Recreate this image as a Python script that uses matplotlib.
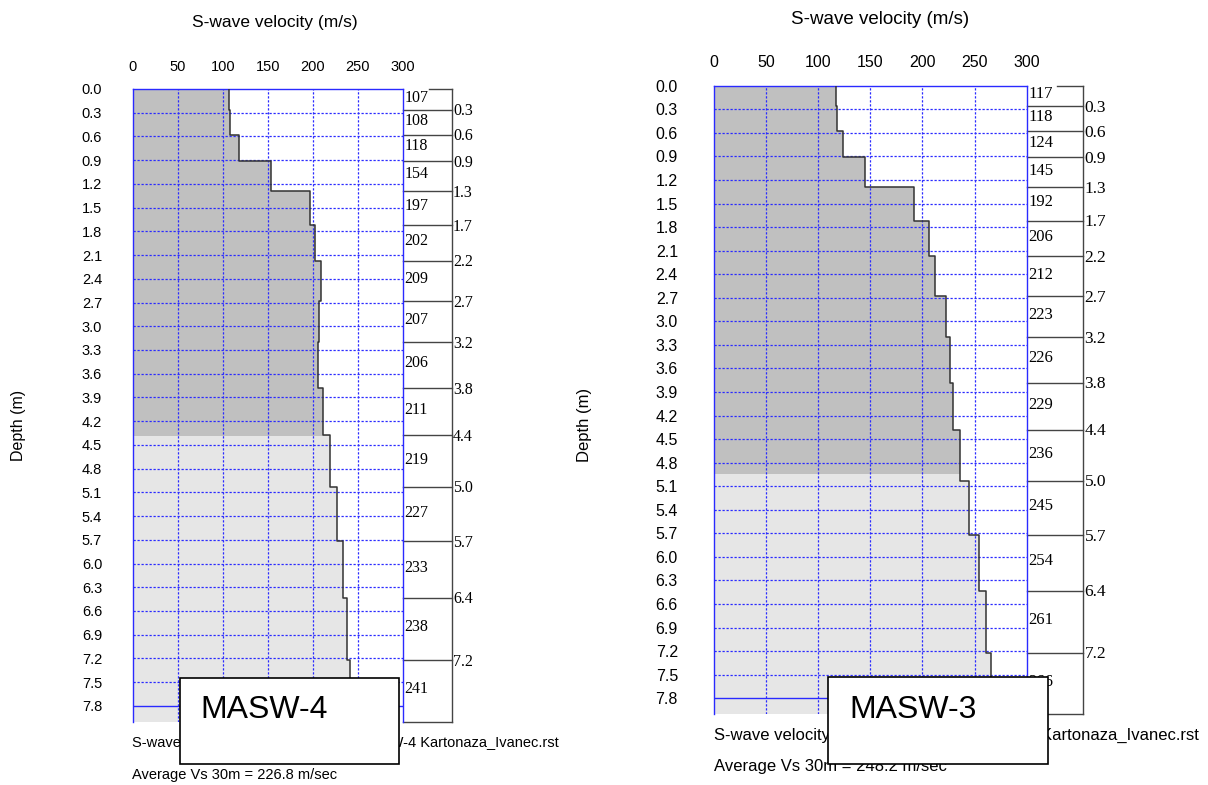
import matplotlib
matplotlib.use('Agg')
import matplotlib.pyplot as plt
import numpy as np
from matplotlib.patches import Rectangle

plt.rcParams['font.family'] = ['Liberation Sans', 'DejaVu Sans']

W, H = 1208, 785

# layer model (same depth model for both soundings)
bounds = [0.26, 0.58, 0.91, 1.29, 1.72, 2.17, 2.68, 3.20, 3.78, 4.38, 5.03, 5.72, 6.43, 7.22]
bound_labels = ['0.3', '0.6', '0.9', '1.3', '1.7', '2.2', '2.7', '3.2', '3.8', '4.4',
                '5.0', '5.7', '6.4', '7.2']
max_depth = 8.0

vs_masw4 = [107, 108, 118, 154, 197, 202, 209, 207, 206, 211, 219, 227, 233, 238, 241]
vs_masw3 = [117, 118, 124, 145, 192, 206, 212, 223, 226, 229, 236, 245, 254, 261, 266]
dark_end_masw4 = 4.38
dark_end_masw3 = 4.93

depth_ticks = np.round(np.arange(0, 7.81, 0.3), 1)
vel_ticks = [0, 50, 100, 150, 200, 250, 300]

names = ['MASW-4', 'MASW-3']
avg_vs = [226.8, 248.2]
footers = ['S-wave velocity profile from file C:\\MASW-4 Kartonaza_Ivanec.rst',
           'S-wave velocity profile from file C:\\MASW-3 Kartonaza_Ivanec.rst']

blue = '#2a2aff'
dark = '#c0c0c0'
light = '#e6e6e6'

fig = plt.figure(figsize=(W / 100, H / 100), dpi=100)


def px(x, y):
    return x / W, 1 - y / H


def panel(rect_px, vs, dark_end, ypad, fs):
    l, t, r, b = rect_px
    ax = fig.add_axes([l / W, 1 - b / H, (r - l) / W, (b - t) / H])
    edges = [0.0] + bounds + [max_depth]
    ys, xs = [], []
    for top, bot, v in zip(edges[:-1], edges[1:], vs):
        ys += [top, bot]
        xs += [v, v]
    ys = np.array(ys)
    xs = np.array(xs)

    ax.fill_betweenx(ys, 0, xs, color=light, lw=0, zorder=1)
    d = ax.fill_betweenx(ys, 0, xs, color=dark, lw=0, zorder=1.1)
    d.set_clip_path(Rectangle((0, 0), 400, dark_end, transform=ax.transData))
    ax.plot(xs, ys, color='#333333', lw=1.1, zorder=3)

    for v in vel_ticks[1:-1]:
        ax.axvline(v, color=blue, lw=0.9, ls=(0, (1.8, 1.4)), zorder=2)
    for d_ in depth_ticks[1:-1]:
        ax.axhline(d_, color=blue, lw=0.9, ls=(0, (1.8, 1.4)), zorder=2)
    ax.axhline(depth_ticks[-1], color=blue, lw=1.0, zorder=2)

    ax.set_xlim(0, 300)
    ax.set_ylim(max_depth, 0)
    ax.xaxis.tick_top()
    ax.set_xticks(vel_ticks)
    ax.set_xticklabels([str(v) for v in vel_ticks])
    ax.set_yticks(depth_ticks)
    ax.set_yticklabels([f'{v:.1f}' for v in depth_ticks])
    ax.tick_params(axis='x', length=0, pad=11, labelsize=fs['tick'])
    ax.tick_params(axis='y', length=0, pad=ypad, labelsize=fs['tick'])
    for s in ['left', 'right', 'top']:
        ax.spines[s].set_color(blue)
        ax.spines[s].set_linewidth(1.0)
    ax.spines['bottom'].set_visible(False)

    # layer table to the right of the plot
    tx = 354
    ax.plot([tx, tx], [0, max_depth], color='#444444', lw=1, clip_on=False)
    ax.plot([329, tx], [0, 0], color='#444444', lw=1, clip_on=False)
    ax.plot([300, tx], [max_depth, max_depth], color='#444444', lw=1, clip_on=False)
    for bd, lab in zip(bounds, bound_labels):
        ax.plot([300, tx], [bd, bd], color='#444444', lw=1, clip_on=False)
        ax.text(tx + 1.5, bd + 0.02, lab, family='Liberation Serif', fontsize=fs['bound'],
                va='center', ha='left', clip_on=False)
    for top, bot, v in zip(edges[:-1], edges[1:], vs):
        ax.text(301.5, (top + bot) / 2 - 0.02, str(v), family='Liberation Serif',
                fontsize=fs['vel'], va='center', ha='left', clip_on=False)
    return ax


fs_left = {'tick': 10.5, 'bound': 11.5, 'vel': 11.5}
fs_right = {'tick': 11.5, 'bound': 12.5, 'vel': 12}
panel((132.7, 89, 403, 721.7), vs_masw4, dark_end_masw4, 22, fs_left)
panel((714, 85.7, 1026.7, 714), vs_masw3, dark_end_masw3, 26, fs_right)

# axis titles
fig.text(*px(275, 22), 'S-wave velocity (m/s)', ha='center', va='center', fontsize=12.5)
fig.text(*px(880, 20), 'S-wave velocity (m/s)', ha='center', va='center', fontsize=13.5)
fig.text(*px(18, 425), 'Depth (m)', rotation=90, ha='center', va='center', fontsize=11.5)
fig.text(*px(585, 425), 'Depth (m)', rotation=90, ha='center', va='center', fontsize=12)

# footers
fig.text(*px(132, 743), footers[0], ha='left', va='center', fontsize=10.5, zorder=1)
fig.text(*px(132, 775), f'Average Vs 30m = {avg_vs[0]} m/sec', ha='left', va='center',
         fontsize=10.5, zorder=1)
fig.text(*px(714, 735), footers[1], ha='left', va='center', fontsize=12, zorder=1)
fig.text(*px(714, 767), f'Average Vs 30m = {avg_vs[1]} m/sec', ha='left', va='center',
         fontsize=12, zorder=1)

# name boxes
for (x0, y0, x1, y1), tx_, name in zip([(180, 677.7, 399.3, 764.3), (828.3, 677.3, 1047.7, 764.3)],
                                       [200, 849], names):
    fig.patches.append(Rectangle(px(x0, y1), (x1 - x0) / W, (y1 - y0) / H,
                                 transform=fig.transFigure, facecolor='white',
                                 edgecolor='black', lw=1.2, zorder=2))
    fig.text(*px(tx_, 718), name, ha='left', va='baseline', fontsize=23, zorder=3)

fig.savefig('out.png', dpi=100)
